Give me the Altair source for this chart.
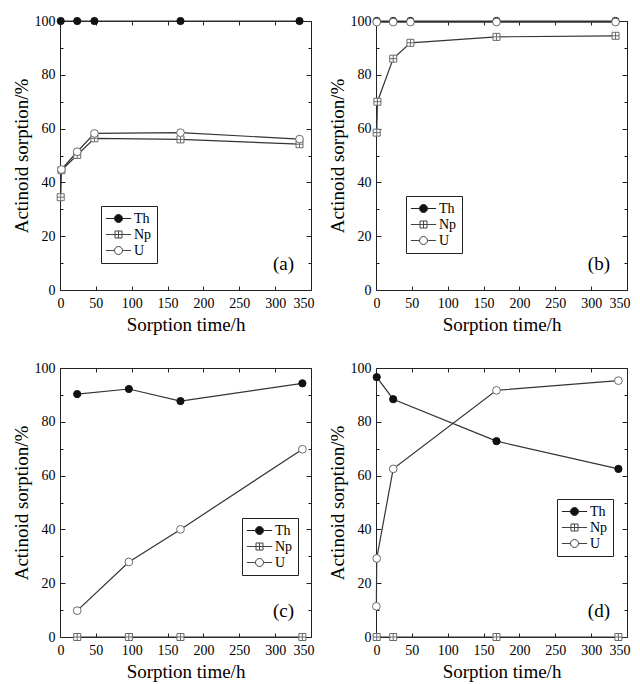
import altair as alt
import pandas as pd

SERIF = "Liberation Serif"
series = ["Th", "Np", "U"]
x_ticks = [0, 50, 100, 150, 200, 250, 300, 350]
y_ticks = [0, 20, 40, 60, 80, 100]
y_minor = [10, 30, 50, 70, 90]

# panel (a)
a_th_t = [1, 24, 48, 168, 334]
a_th_v = [100, 100, 100, 100, 100]
a_np_t = [1, 2, 24, 48, 168, 334]
a_np_v = [34.5, 44.5, 50.2, 56.4, 56.0, 54.2]
a_u_t = [2, 24, 48, 168, 334]
a_u_v = [44.8, 51.4, 58.2, 58.5, 56.1]

# panel (b)
b_th_t = [1, 24, 48, 168, 334]
b_th_v = [100, 100, 100, 100, 100]
b_np_t = [1, 2, 24, 48, 168, 334]
b_np_v = [58.5, 70.0, 86.0, 91.9, 94.1, 94.5]
b_u_t = [1, 24, 48, 168, 334]
b_u_v = [99.6, 99.6, 99.6, 99.6, 99.6]

# panel (c)
c_th_t = [24, 96, 168, 338]
c_th_v = [90.3, 92.2, 87.7, 94.3]
c_np_t = [24, 96, 168, 338]
c_np_v = [0, 0, 0, 0]
c_u_t = [24, 96, 168, 338]
c_u_v = [9.8, 27.9, 40.0, 69.8]

# panel (d)
d_th_t = [1, 24, 168, 338]
d_th_v = [96.6, 88.4, 72.8, 62.5]
d_np_t = [1, 24, 168, 338]
d_np_v = [0, 0, 0, 0]
d_u_t = [0.5, 1, 24, 168, 338]
d_u_v = [11.4, 29.2, 62.5, 91.7, 95.3]

LINE = "#333333"
MARK_STROKE = "#6a6a6a"
NP_PATH = "M-1,-1H1V1H-1Z M0,-1V1 M-1,0H1"
LEG_TH = "M-1.8,0H-0.57 M0.57,0H1.8 M-0.57,0A0.57,0.57 0 1,1 0.57,0A0.57,0.57 0 1,1 -0.57,0Z"
LEG_NP = "M-1.8,0H-0.5 M0.5,0H1.8 M-0.5,-0.5H0.5V0.5H-0.5Z M0,-0.5V0.5 M-0.5,0H0.5"
LEG_U = LEG_TH


def make_df(th_t, th_v, np_t, np_v, u_t, u_v):
    rows = []
    for s, ts, vs in (("Th", th_t, th_v), ("Np", np_t, np_v), ("U", u_t, u_v)):
        for t, v in zip(ts, vs):
            rows.append({"t": t, "v": v, "s": s})
    return pd.DataFrame(rows)


XS = alt.Scale(domain=[0, 350], nice=False, zero=False)
YS = alt.Scale(domain=[0, 100], nice=False, zero=False)


def xenc(axis):
    return alt.X("t:Q", scale=XS, axis=axis)


def yenc(axis):
    return alt.Y("v:Q", scale=YS, axis=axis)


def tick_axis(orient, values, size):
    return alt.Axis(orient=orient, values=values, tickSize=size, offset=-size,
                    labels=False, domain=False, ticks=True, grid=False, title=None,
                    tickColor="#222", tickWidth=1)


def panel(df, lx, ly, tag):
    base = alt.Chart(df)
    x_lab = alt.Axis(orient="bottom", values=x_ticks, ticks=False, domain=False, grid=False,
                     title="Sorption time/h", labelPadding=6, titlePadding=5,
                     labelFlush=True, labelFlushOffset=3,
                     labelFont=SERIF, labelFontSize=14, labelColor="black",
                     titleFont=SERIF, titleFontSize=19, titleFontWeight="normal", titleColor="black")
    y_lab = alt.Axis(orient="left", values=y_ticks, ticks=False, domain=False, grid=False,
                     title="Actinoid sorption/%", labelPadding=5, titlePadding=3,
                     labelFont=SERIF, labelFontSize=14, labelColor="black",
                     titleFont=SERIF, titleFontSize=19, titleFontWeight="normal", titleColor="black")
    line = base.mark_line(color=LINE, strokeWidth=1.2).encode(
        x=xenc(x_lab), y=yenc(y_lab), detail="s:N")
    th = base.transform_filter(alt.datum.s == "Th").mark_point(
        shape="circle", filled=True, fill="#111", stroke="#111", strokeWidth=1,
        size=52, opacity=1).encode(
        x=xenc(tick_axis("bottom", x_ticks, 4)), y=yenc(tick_axis("left", y_ticks, 5)))
    npm = base.transform_filter(alt.datum.s == "Np").mark_point(
        shape=NP_PATH, filled=True, fill="white", stroke=MARK_STROKE, strokeWidth=1,
        size=49, opacity=1).encode(
        x=xenc(tick_axis("top", x_ticks, 4)), y=yenc(tick_axis("right", y_ticks, 5)))
    um = base.transform_filter(alt.datum.s == "U").mark_point(
        shape="circle", filled=True, fill="white", stroke=MARK_STROKE, strokeWidth=1,
        size=60, opacity=1).encode(
        x=xenc(None), y=yenc(tick_axis("left", y_minor, 3)))
    leg = alt.Legend(title=None, orient="none", legendX=lx, legendY=ly,
                     symbolSize=196, symbolStrokeWidth=1, symbolOpacity=1,
                     symbolOffset=5, labelOffset=8,
                     labelFont=SERIF, labelFontSize=14, labelColor="black",
                     strokeColor="#222", fillColor="white", padding=5,
                     rowPadding=1)
    legend_layer = base.mark_point(opacity=0).encode(
        x=xenc(None), y=yenc(tick_axis("right", y_minor, 3)),
        shape=alt.Shape("s:N", scale=alt.Scale(domain=series, range=[LEG_TH, LEG_NP, LEG_U]), legend=leg),
        fill=alt.Fill("s:N", scale=alt.Scale(domain=series, range=["#111", "white", "white"]), legend=leg),
        stroke=alt.Stroke("s:N", scale=alt.Scale(domain=series, range=["#222", "#444", "#444"]), legend=leg),
    )
    return alt.layer(line, th, npm, um, legend_layer).resolve_axis(
        x="independent", y="independent").properties(
        width=251, height=269,
        title=alt.TitleParams(text=tag, orient="bottom", anchor="end", frame="group",
                              offset=-64, baseline="alphabetic", dx=-17,
                              font=SERIF, fontSize=19, fontWeight="normal", color="black"))


pa = panel(make_df(a_th_t, a_th_v, a_np_t, a_np_v, a_u_t, a_u_v), 41, 185, "(a)")
pb = panel(make_df(b_th_t, b_th_v, b_np_t, b_np_v, b_u_t, b_u_v), 30, 175, "(b)")
pc = panel(make_df(c_th_t, c_th_v, c_np_t, c_np_v, c_u_t, c_u_v), 182, 150, "(c)")
pd_ = panel(make_df(d_th_t, d_th_v, d_np_t, d_np_v, d_u_t, d_u_v), 181, 131, "(d)")

chart = alt.concat(pa, pb, pc, pd_, columns=2,
                   spacing=alt.RowColnumber(row=25, column=12)).resolve_scale(
    shape="independent", fill="independent", stroke="independent"
).resolve_legend(
    shape="independent", fill="independent", stroke="independent"
).properties(
    padding={"left": 3, "top": 5, "right": 0, "bottom": 0},
    background="white",
).configure_view(stroke="#222", strokeWidth=1).configure_axis(
    labelFont=SERIF, labelFontSize=14, labelColor="black",
    titleFont=SERIF, titleFontSize=19, titleFontWeight="normal", titleColor="black"
)

chart.save("out.html", embed_options={"renderer": "svg", "actions": False})
